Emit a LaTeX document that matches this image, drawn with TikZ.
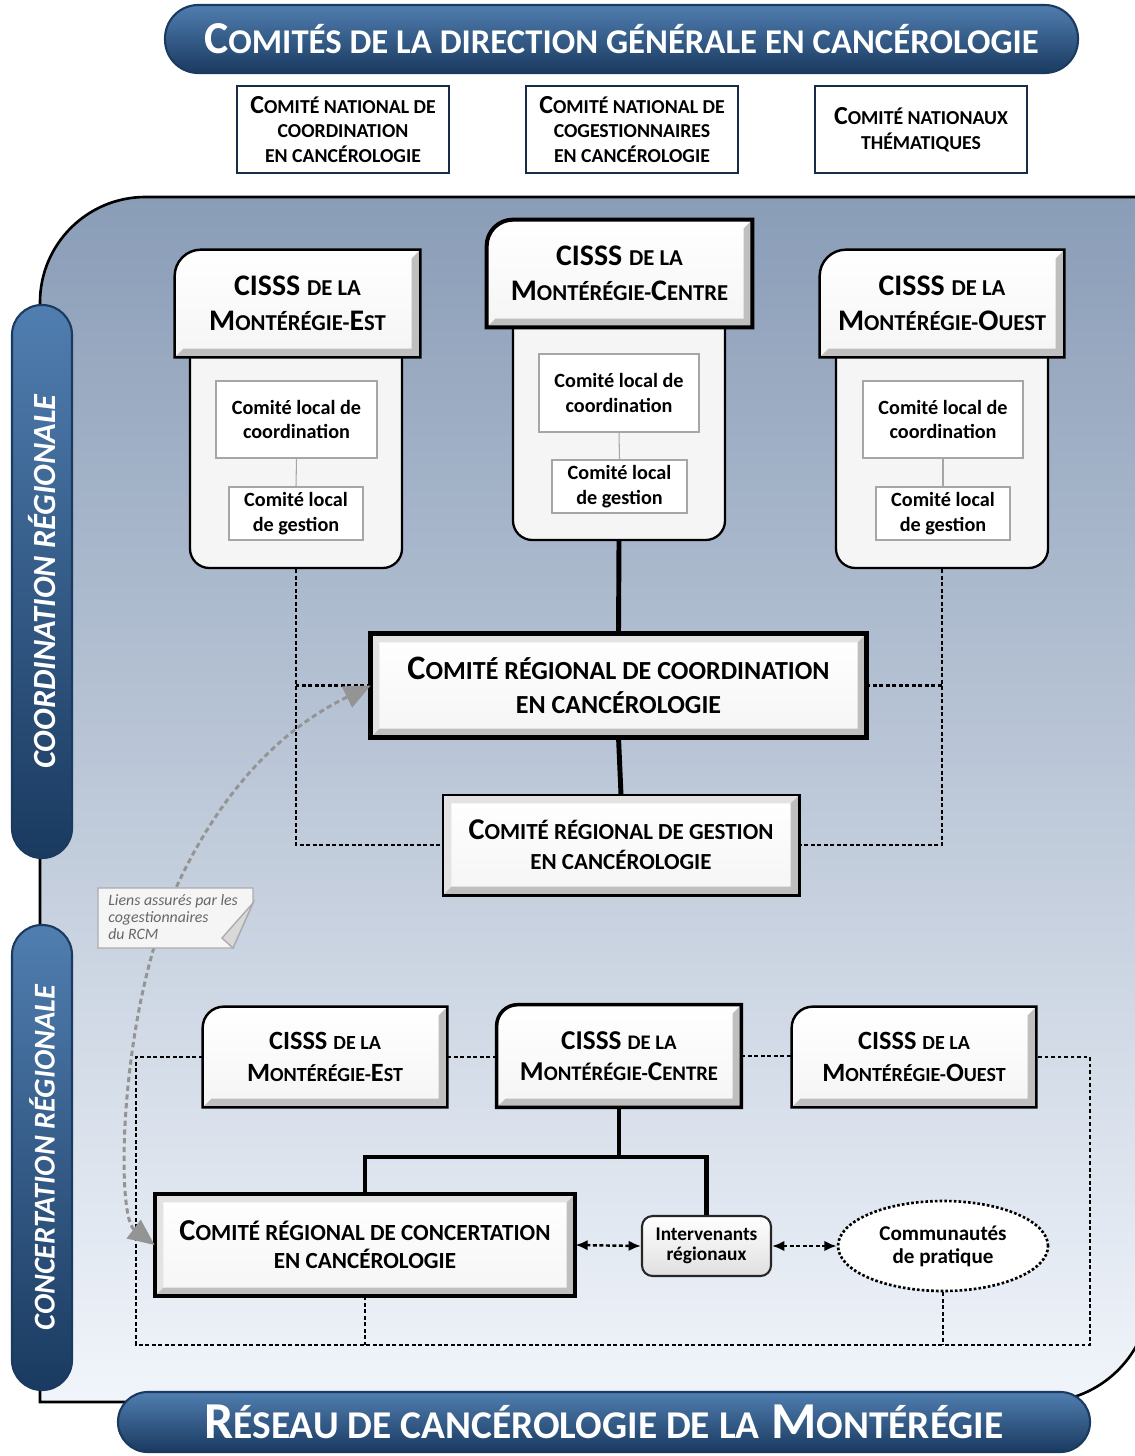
\documentclass[tikz,border=0pt]{standalone}
\usepackage{fontspec}
\setmainfont{Carlito}
\usetikzlibrary{arrows.meta,shapes.geometric}

\definecolor{bleu}{RGB}{46,92,142}
\definecolor{bleuclair}{RGB}{80,126,176}
\definecolor{bleufonce}{RGB}{26,58,96}
\definecolor{marine}{RGB}{24,44,74}
\definecolor{fondhaut}{RGB}{138,157,183}
\definecolor{fondmilieu}{RGB}{210,220,234}
\definecolor{fondbas}{RGB}{241,245,251}

% fausses petites capitales
\makeatletter
\newcommand\petitcap[1]{{\@tempdima=\f@size pt\relax\@tempdima=0.76\@tempdima
  \fontsize{\@tempdima}{\f@baselineskip}\selectfont#1}}
\makeatother

\tikzset{
  taille/.style 2 args={minimum width=#1*0.02cm, minimum height=#2*0.02cm},
  bandeau/.style={draw=bleufonce, line width=1.2pt, top color=bleuclair,
    middle color=bleu, bottom color=bleufonce, text=white, inner sep=0pt},
  natbox/.style={draw=marine, line width=1.3pt, fill=white, align=center,
    inner sep=0pt, taille={212}{87}, font=\fontsize{14.8}{14.2}\selectfont\bfseries},
  corps/.style={draw=black, line width=1.3pt, fill=gray!8, rounded corners=11pt},
  locbox/.style={draw=gray!70, line width=0.6pt, fill=white, align=center,
    inner sep=0pt, font=\fontsize{11.5}{14}\selectfont\bfseries},
  trait/.style={line width=2.8pt},
  pointille/.style={line width=1.4pt, dash pattern=on 2.2pt off 1.5pt},
  fleche/.style={pointille, {Latex[length=7pt,width=6pt]}-{Latex[length=7pt,width=6pt]}},
  lien/.style={black!42, line width=1.7pt, dash pattern=on 3pt off 2pt,
    {Triangle[length=15pt,width=13pt]}-{Triangle[length=15pt,width=13pt]}},
  interv/.style={draw=gray!30!black, line width=1.2pt, rounded corners=6pt,
    top color=white, bottom color=gray!25, align=center, inner sep=0pt,
    font=\fontsize{11}{11.3}\selectfont\bfseries},
  commu/.style={ellipse, draw, line width=1.5pt, dash pattern=on 1.5pt off 1.2pt,
    fill=white, align=center, inner sep=0pt, font=\fontsize{12}{13}\selectfont\bfseries}
}

% [bord]{nom}{centre}{largeur}{hauteur}{coin}{police}{texte}
\newcommand\enseigne[8][1.4pt]{%
  \node[inner sep=0pt, taille={#4}{#5}] (#2) at (#3) {};
  \fill[top color=white, bottom color=gray!8] (#2.south west) -- ([yshift=-#6]#2.north west)
    arc[start angle=180, end angle=90, radius=#6] -- (#2.north east) -- (#2.south east) -- cycle;
  \ifdim#6=0pt
    \fill[gray!22] (#2.south west) -- (#2.north west) -- (#2.north east)
      -- ([shift={(-5pt,-5pt)}]#2.north east) -- ([shift={(5pt,-5pt)}]#2.north west)
      -- ([shift={(5pt,5pt)}]#2.south west) -- cycle;
  \fi
  \fill[gray!50] (#2.south west) -- (#2.south east) -- (#2.north east)
    -- ([shift={(-5pt,-5pt)}]#2.north east) -- ([shift={(-5pt,5pt)}]#2.south east)
    -- ([shift={(5pt,5pt)}]#2.south west) -- cycle;
  \draw[line width=#1] (#2.south west) -- ([yshift=-#6]#2.north west)
    arc[start angle=180, end angle=90, radius=#6] -- (#2.north east) -- (#2.south east) -- cycle;
  \node[align=center, inner sep=0pt, font=#7] (#2-t) at (#2.center) {#8};
}

\begin{document}
\begin{tikzpicture}[x=0.02cm, y=-0.02cm]
  \clip (0,0) rectangle (1135,1456);
  \fill[white] (0,0) rectangle (1135,1456);

  % direction generale
  \node[bandeau, taille={913}{68}, rounded corners=19pt,
    font=\fontsize{26}{26}\selectfont\bfseries] (dgc) at (621.5,39)
    {C\petitcap{OMITÉS DE LA DIRECTION GÉNÉRALE EN CANCÉROLOGIE}};
  \node[natbox] (cnc) at (343,129.5) {C\petitcap{OMITÉ NATIONAL DE}\\\petitcap{COORDINATION}\\\petitcap{EN CANCÉROLOGIE}};
  \node[natbox] (cng) at (632,129.5) {C\petitcap{OMITÉ NATIONAL DE}\\\petitcap{COGESTIONNAIRES}\\\petitcap{EN CANCÉROLOGIE}};
  \node[natbox] (cnt) at (921,129.5) {C\petitcap{OMITÉ NATIONAUX}\\\petitcap{THÉMATIQUES}};

  % fond du reseau
  \draw[line width=1.5pt, top color=fondhaut, middle color=fondmilieu, bottom color=fondbas]
    (40,1402) [rounded corners=60pt] -- (40,197) [sharp corners] -- (1150,197)
    [rounded corners=62pt] -- (1150,1402) [sharp corners] -- cycle;

  \node[bandeau, taille={553}{60}, rounded corners=17pt, rotate=90,
    font=\fontsize{18.4}{18.4}\selectfont\bfseries\itshape] (pcoord) at (42,581.5) {COORDINATION RÉGIONALE};
  \node[bandeau, taille={465}{60}, rounded corners=17pt, rotate=90,
    font=\fontsize{17.2}{17.2}\selectfont\bfseries\itshape] (pconc) at (42,1157.5) {CONCERTATION RÉGIONALE};
  \node[bandeau, taille={972}{60}, rounded corners=17pt,
    font=\fontsize{29.5}{29.5}\selectfont\bfseries] (rcm) at (604,1422)
    {R\petitcap{ÉSEAU DE CANCÉROLOGIE DE LA} M\petitcap{ONTÉRÉGIE}};

  % coordination regionale
  \node[corps, taille={212}{238}] (estc) at (296,449) {};
  \node[corps, taille={212}{240}] (centrec) at (619,420) {};
  \node[corps, taille={212}{238}] (ouestc) at (942,449) {};
  \enseigne{est}{297.5,303.5}{245}{107}{15pt}{\fontsize{17}{20}\selectfont\bfseries}
    {CISSS \petitcap{DE LA}\\M\petitcap{ONTÉRÉGIE-}E\petitcap{ST}}
  \enseigne[2.3pt]{centre}{619.5,273.5}{265}{107}{15pt}{\fontsize{17}{20}\selectfont\bfseries}
    {CISSS \petitcap{DE LA}\\M\petitcap{ONTÉRÉGIE-}C\petitcap{ENTRE}}
  \enseigne{ouest}{942,303.5}{244}{107}{15pt}{\fontsize{17}{20}\selectfont\bfseries}
    {CISSS \petitcap{DE LA}\\M\petitcap{ONTÉRÉGIE-}O\petitcap{UEST}}

  \node[locbox, taille={161}{77}] (estcl) at (296.5,419.5) {Comité local de\\coordination};
  \node[locbox, taille={134}{53}] (estgl) at (296,513.5) {Comité local\\de gestion};
  \node[locbox, taille={160}{78}] (centrecl) at (619,393) {Comité local de\\coordination};
  \node[locbox, taille={135}{53}] (centregl) at (619.5,486.5) {Comité local\\de gestion};
  \node[locbox, taille={160}{77}] (ouestcl) at (943,419.5) {Comité local de\\coordination};
  \node[locbox, taille={134}{53}] (ouestgl) at (943,513.5) {Comité local\\de gestion};
  \foreach \c/\g in {estcl/estgl, centrecl/centregl, ouestcl/ouestgl}
    \draw[gray!70, line width=0.6pt] (\c.south) -- (\g.north);

  \enseigne[2.8pt]{crc}{618.5,685.5}{495}{103}{0pt}{\fontsize{19.5}{19.3}\selectfont\bfseries}
    {C\petitcap{OMITÉ RÉGIONAL DE COORDINATION}\\\petitcap{EN CANCÉROLOGIE}}
  \enseigne[1.3pt]{crg}{621,845}{356}{100}{0pt}{\fontsize{17.2}{17}\selectfont\bfseries}
    {C\petitcap{OMITÉ RÉGIONAL DE GESTION}\\\petitcap{EN CANCÉROLOGIE}}

  \draw[trait] (centrec.south) -- (crc.north);
  \draw[trait] (crc.south) -- (crg.north);
  \draw[pointille] (estc.south) |- (crg.west);
  \draw[pointille] (crc.west) -- (crc.west -| estc.south);
  \draw[pointille] (ouestc.south) |- (crg.east);
  \draw[pointille] (crc.east) -- (crc.east -| ouestc.south);

  % concertation regionale
  \enseigne{best}{325,1057}{244}{100}{12pt}{\fontsize{15}{18}\selectfont\bfseries}
    {CISSS \petitcap{DE LA}\\M\petitcap{ONTÉRÉGIE-}E\petitcap{ST}}
  \enseigne[2pt]{bcentre}{619,1056}{244}{102}{12pt}{\fontsize{15.5}{18}\selectfont\bfseries}
    {CISSS \petitcap{DE LA}\\M\petitcap{ONTÉRÉGIE-}C\petitcap{ENTRE}}
  \enseigne{bouest}{914,1057}{244}{100}{12pt}{\fontsize{15}{18}\selectfont\bfseries}
    {CISSS \petitcap{DE LA}\\M\petitcap{ONTÉRÉGIE-}O\petitcap{UEST}}
  \enseigne[2.3pt]{crcc}{365,1245}{420}{102}{0pt}{\fontsize{17.3}{16}\selectfont\bfseries}
    {C\petitcap{OMITÉ RÉGIONAL DE CONCERTATION}\\\petitcap{EN CANCÉROLOGIE}}
  \node[interv, taille={129}{60}] (interv) at (706.5,1246) {Intervenants\\régionaux};
  \node[commu, taille={210}{90}] (commu) at (943,1246) {Communautés\\de pratique};

  \coordinate (jonction) at (619,1157);
  \coordinate (cadreSO) at (136,1345);
  \coordinate (cadreSE) at (1090,1345);
  \draw[trait] (bcentre.south) -- (jonction);
  \draw[trait] (crcc.north) |- (jonction) -| (interv.north);
  \draw[pointille] (best.west) -| (cadreSO) -- (cadreSE) |- (bouest.east);
  \draw[pointille] (best.east) -- (best.east -| bcentre.west);
  \draw[pointille] (bcentre.east) -- (bcentre.east -| bouest.west);
  \draw[pointille] (crcc.south) -- (crcc.south |- cadreSO);
  \draw[pointille] (commu.south) -- (commu.south |- cadreSO);
  \draw[fleche] (crcc.east) -- (interv.west);
  \draw[fleche] (interv.east) -- (commu.west);

  % liens des cogestionnaires
  \draw[lien] (crcc.west) .. controls (115,1215) and (120,1010) .. (175,890)
    .. controls (230,770) and (300,720) .. (crc.west);
  \filldraw[fill=gray!8, draw=gray!65, line width=0.8pt]
    (98,888) -- (253,888) -- (253,903) -- (233,948) -- (98,948) -- cycle;
  \filldraw[fill=gray!30, draw=gray!65, line width=0.8pt] (253,903) -- (222,938) -- (233,948) -- cycle;
  \node[anchor=north west, inner sep=0pt, align=left, text=black!60,
    font=\fontsize{9}{9.6}\selectfont\itshape] (note) at (108,894)
    {Liens assurés par les\\cogestionnaires\\du RCM};
\end{tikzpicture}
\end{document}
